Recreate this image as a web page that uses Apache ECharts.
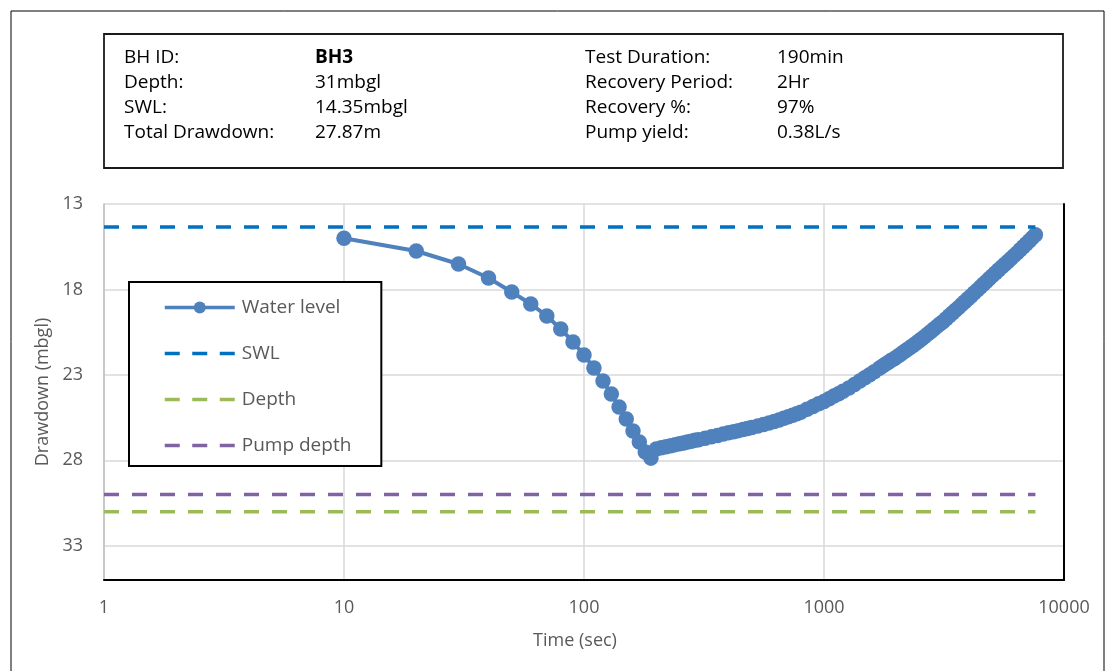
<!DOCTYPE html>
<html>
<head>
<meta charset="utf-8">
<script src="https://cdn.jsdelivr.net/npm/echarts@6/dist/echarts.min.js"></script>
<style>
  html, body { margin: 0; padding: 0; background: #ffffff; }
  #chart { width: 1107px; height: 671px; }
</style>
</head>
<body>
<div id="chart"></div>
<script>
// Pumping test summary
const infoLeftLabels = ['BH ID:', 'Depth:', 'SWL:', 'Total Drawdown:'];
const infoLeftValues = ['BH3', '31mbgl', '14.35mbgl', '27.87m'];
const infoRightLabels = ['Test Duration:', 'Recovery Period:', 'Recovery %:', 'Pump yield:'];
const infoRightValues = ['190min', '2Hr', '97%', '0.38L/s'];

// Reference levels (mbgl)
const swlLevel = 14.35;
const boreDepth = 31;
const pumpDepth = 30;

// Water level readings: pumping phase then recovery
const timeSec = [
  10, 20, 30, 40, 50, 60, 70, 80, 90, 100, 110, 120, 130, 140, 150, 160, 170, 180, 190,
  200, 210, 220, 230, 240, 250, 260, 270, 280, 290, 300,
  320, 340, 360, 380, 400, 420, 440, 460, 480, 500,
  530, 560, 590, 620, 650, 680, 710, 740, 770, 800,
  850, 900, 950, 1000, 1050, 1100, 1150, 1200,
  1270, 1340, 1410, 1480, 1550, 1620, 1700,
  1750, 1800, 1850, 1900, 1960, 2020, 2080, 2140, 2200, 2270, 2340, 2410, 2480, 2550,
  2630, 2710, 2790, 2870, 2960, 3050, 3140, 3230, 3330, 3430, 3530, 3640, 3750, 3860, 3980,
  4100, 4220, 4350, 4480, 4610, 4750, 4890, 5040, 5190, 5350, 5510, 5670, 5840, 6020,
  6200, 6380, 6570, 6770, 6970, 7180, 7400, 7600
];
const waterLevel = [
  15.0, 15.75, 16.51, 17.33, 18.15, 18.85, 19.55, 20.31, 21.07, 21.84, 22.6, 23.36, 24.12, 24.88, 25.58, 26.28, 26.93, 27.51, 27.87,
  27.33, 27.26, 27.20, 27.14, 27.08, 27.03, 26.98, 26.93, 26.88, 26.83, 26.79,
  26.70, 26.62, 26.54, 26.46, 26.39, 26.33, 26.26, 26.20, 26.14, 26.08,
  25.99, 25.90, 25.81, 25.73, 25.64, 25.54, 25.45, 25.36, 25.27, 25.18,
  25.01, 24.85, 24.69, 24.55, 24.39, 24.24, 24.10, 23.96,
  23.77, 23.56, 23.36, 23.17, 22.99, 22.81, 22.61,
  22.49, 22.38, 22.27, 22.16, 22.05, 21.93, 21.80, 21.68, 21.56, 21.42, 21.29, 21.16, 21.03, 20.90,
  20.75, 20.60, 20.46, 20.31, 20.16, 20.01, 19.87, 19.71, 19.54, 19.38, 19.22, 19.05, 18.88, 18.72, 18.55,
  18.38, 18.21, 18.04, 17.87, 17.70, 17.53, 17.36, 17.19, 17.02, 16.85, 16.68, 16.52, 16.36, 16.19,
  16.02, 15.86, 15.68, 15.50, 15.33, 15.15, 14.96, 14.80
];

const FONT = '"Open Sans", "Noto Sans", sans-serif';
const AXIS_TEXT = '#595959';

const lastT = timeSec[timeSec.length - 1];
const levelLine = (v) => [[1, v], [lastT, v]];

// Header box with test details
const header = [];
header.push({
  type: 'rect',
  shape: { x: 104, y: 34, width: 959, height: 134 },
  style: { fill: '#ffffff', stroke: '#1a1a1a', lineWidth: 1.8 },
  z: 10
});
const rowY = (i) => 58 + i * 25;
const addText = (x, y, text, bold) => header.push({
  type: 'text', x: x, y: y, z: 11,
  style: {
    text: text, fill: '#000000', font: (bold ? 'bold ' : '') + '19px ' + FONT,
    textVerticalAlign: 'middle', textAlign: 'left'
  }
});
infoLeftLabels.forEach((t, i) => addText(124, rowY(i), t, false));
infoLeftValues.forEach((t, i) => addText(315, rowY(i), t, i === 0));
infoRightLabels.forEach((t, i) => addText(585, rowY(i), t, false));
infoRightValues.forEach((t, i) => addText(777, rowY(i), t, false));

// Outer frame of the chart
header.push({
  type: 'rect',
  shape: { x: 11, y: 11, width: 1093, height: 700 },
  style: { fill: 'none', stroke: '#000000', lineWidth: 1 },
  z: 1
});

const chart = echarts.init(document.getElementById('chart'), null, { renderer: 'canvas' });

const dashed = (color) => ({ color: color, width: 3.5, type: [15, 13], cap: 'butt' });
// Three short dashes used as the legend key of the level lines
const dashIcon = 'path://M0,0h15v3.5h-15z M27.5,0h15v3.5h-15z M55,0h15v3.5h-15z';

chart.setOption({
  animation: false,
  backgroundColor: '#ffffff',
  textStyle: { fontFamily: FONT },
  grid: { left: 104, right: 43, top: 204, bottom: 91, containLabel: false },
  xAxis: {
    type: 'log',
    logBase: 10,
    min: 1,
    max: 10000,
    name: 'Time (sec)',
    nameLocation: 'middle',
    nameGap: 52,
    nameTextStyle: { color: AXIS_TEXT, fontSize: 18, fontFamily: FONT, padding: [0, 18, 0, 0] },
    axisLine: { show: true, lineStyle: { color: '#000000', width: 2 } },
    axisTick: { show: false },
    axisLabel: { color: AXIS_TEXT, fontSize: 18, fontFamily: FONT, margin: 19, formatter: (v) => String(v) },
    splitLine: { show: true, lineStyle: { color: '#D9D9D9', width: 1.5 } },
    minorTick: { show: false }
  },
  yAxis: [{
    type: 'value',
    inverse: true,
    min: 13,
    max: 35,
    interval: 5,
    name: 'Drawdown (mbgl)',
    nameLocation: 'middle',
    nameGap: 52,
    nameRotate: 90,
    nameTextStyle: { color: AXIS_TEXT, fontSize: 18, fontFamily: FONT },
    axisLine: { show: true, lineStyle: { color: '#BFBFBF', width: 1.5 } },
    axisTick: { show: false },
    axisLabel: { color: AXIS_TEXT, fontSize: 18, fontFamily: FONT, margin: 21, showMaxLabel: false },
    splitLine: { show: true, lineStyle: { color: '#D9D9D9', width: 1.5 } }
  }, {
    type: 'value',
    inverse: true,
    min: 13,
    max: 35,
    position: 'right',
    axisLine: { show: true, onZero: false, lineStyle: { color: '#000000', width: 2 } },
    axisTick: { show: false },
    axisLabel: { show: false },
    splitLine: { show: false }
  }],
  legend: {
    orient: 'vertical',
    left: 129,
    top: 282,
    padding: [16, 30, 11, 34],
    itemWidth: 70,
    itemHeight: 15,
    itemGap: 27,
    borderColor: '#000000',
    borderWidth: 2,
    backgroundColor: '#ffffff',
    lineStyle: { width: 3.5 },
    textStyle: { color: AXIS_TEXT, fontSize: 19, lineHeight: 15, fontFamily: FONT, padding: [0, 0, 0, 2] },
    data: [
      { name: 'Water level' },
      { name: 'SWL', icon: dashIcon },
      { name: 'Depth', icon: dashIcon },
      { name: 'Pump depth', icon: dashIcon }
    ]
  },
  graphic: header,
  series: [
    {
      name: 'Water level',
      type: 'line',
      data: timeSec.map((t, i) => [t, waterLevel[i]]),
      symbol: 'circle',
      symbolSize: 15.5,
      showSymbol: true,
      lineStyle: { color: '#4F81BD', width: 4 },
      itemStyle: { color: '#4F81BD' },
      z: 3
    },
    {
      name: 'SWL', type: 'line', data: levelLine(swlLevel), symbol: 'none',
      lineStyle: dashed('#0070C0'), itemStyle: { color: '#0070C0' }, z: 4
    },
    {
      name: 'Depth', type: 'line', data: levelLine(boreDepth), symbol: 'none',
      lineStyle: dashed('#9BBB59'), itemStyle: { color: '#9BBB59' }, z: 4
    },
    {
      name: 'Pump depth', type: 'line', data: levelLine(pumpDepth), symbol: 'none',
      lineStyle: dashed('#8064A2'), itemStyle: { color: '#8064A2' }, z: 4
    }
  ]
});
</script>
</body>
</html>
